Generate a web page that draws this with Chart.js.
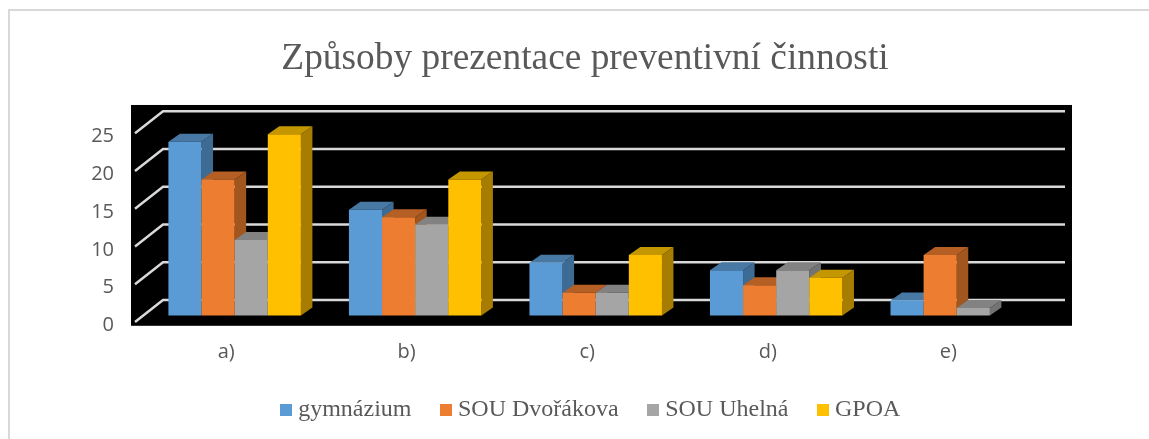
<!DOCTYPE html>
<html>
<head>
<meta charset="utf-8">
<script src="https://cdn.jsdelivr.net/npm/chart.js@4"></script>
<style>
    body { margin: 0; background: #fff; overflow: hidden; }
    #ramecek { position: absolute; left: 8px; top: 9px; right: 0; bottom: 0; border-top: 2px solid #d9d9d9; border-left: 2px solid #d9d9d9; }
    canvas { position: absolute; left: 0; top: 0; }
</style>
</head>
<body>
<div id="ramecek"></div>
<canvas id="graf" width="1149" height="439"></canvas>
<script>
const kategorie = ["a)", "b)", "c)", "d)", "e)"];
const gymnazium = [23, 14, 7, 6, 2];
const souDvorakova = [18, 13, 3, 4, 8];
const souUhelna = [10, 12, 3, 6, 1];
const gpoa = [24, 18, 8, 5, null];
const hodnotyOsy = [0, 5, 10, 15, 20, 25];

const barvy = ["#5b9bd5", "#ed7d31", "#a5a5a5", "#ffc000"];
const barvyBok = ["#3e6b94", "#a2561f", "#737373", "#a67d00"];
const barvyVrch = ["#4878a4", "#b55f25", "#828282", "#c49600"];

const SEDA_TEXT = "#595959";
const HLOUBKA_X = 11.5;
const HLOUBKA_Y = 8;

function ctyruhelnik(ctx, body, barva) {
    ctx.fillStyle = barva;
    ctx.beginPath();
    ctx.moveTo(body[0][0], body[0][1]);
    for (let i = 1; i < body.length; i++) ctx.lineTo(body[i][0], body[i][1]);
    ctx.closePath();
    ctx.fill();
}

// ctverecek do legendy, aby sedela mezera mezi znackou a textem
function znacka(barva) {
    const c = document.createElement("canvas");
    c.width = 12;
    c.height = 12;
    const g = c.getContext("2d");
    g.fillStyle = barva;
    g.fillRect(0, 0, 12, 12);
    return c;
}

const prostorovyGraf = {
    id: "prostorovyGraf",
    afterLayout(chart) {
        // titulek a legenda nejsou v originale na stredu platna
        const t = chart.titleBlock;
        const posunT = 585 - (t.left + t.right) / 2;
        t.left += posunT;
        t.right += posunT;
        const l = chart.legend;
        const posunL = 593 - (l.left + l.right) / 2;
        l.left += posunL;
        l.right += posunL;
        l.top -= 7;
        l.bottom -= 7;
    },
    beforeDraw(chart) {
        const ctx = chart.ctx;
        const a = chart.chartArea;
        ctx.save();
        ctx.fillStyle = "#000";
        ctx.fillRect(a.left - 13.4, a.top - 21.7, a.width + 38.4, a.height + 32);
        ctx.restore();
    },
    beforeDatasetsDraw(chart) {
        const ctx = chart.ctx;
        const a = chart.chartArea;
        const y = chart.scales.y;

        // mrizka je na zadni stene a na levem boku
        ctx.save();
        ctx.strokeStyle = "#d9d9d9";
        ctx.lineWidth = 2.5;
        hodnotyOsy.forEach(v => {
            const py = y.getPixelForValue(v);
            ctx.beginPath();
            ctx.moveTo(a.left - 9.4, py + 6.5);
            ctx.lineTo(a.left + 18.6, py - 15.5);
            ctx.lineTo(a.right + 18, py - 15.5);
            ctx.stroke();
        });

        // datasety zleva doprava, kazdy dalsi prekryje bok predchoziho
        chart.data.datasets.forEach((ds, i) => {
            const meta = chart.getDatasetMeta(i);
            meta.data.forEach((el, j) => {
                if (ds.data[j] === null) return;
                const x1 = el.x - el.width / 2;
                const x2 = el.x + el.width / 2;
                ctyruhelnik(ctx, [[x2, el.y], [x2 + HLOUBKA_X, el.y - HLOUBKA_Y], [x2 + HLOUBKA_X, el.base - HLOUBKA_Y], [x2, el.base]], barvyBok[i]);
                ctyruhelnik(ctx, [[x1, el.y], [x1 + HLOUBKA_X, el.y - HLOUBKA_Y], [x2 + HLOUBKA_X, el.y - HLOUBKA_Y], [x2, el.y]], barvyVrch[i]);
            });
            meta.controller.draw();
        });
        ctx.restore();
        return false;
    }
};

new Chart(document.getElementById("graf"), {
    type: "bar",
    data: {
        labels: kategorie,
        datasets: [
            { label: "gymnázium", data: gymnazium, backgroundColor: barvy[0] },
            { label: "SOU Dvořákova", data: souDvorakova, backgroundColor: barvy[1] },
            { label: "SOU Uhelná", data: souUhelna, backgroundColor: barvy[2] },
            { label: "GPOA", data: gpoa, backgroundColor: barvy[3] }
        ]
    },
    options: {
        responsive: false,
        animation: false,
        layout: { padding: { left: 20, right: 102 } },
        datasets: { bar: { categoryPercentage: 0.734, barPercentage: 1 } },
        scales: {
            x: {
                afterFit: s => { s.height = 55.5; },
                grid: { display: false, drawTicks: false },
                border: { display: false },
                ticks: { color: SEDA_TEXT, font: { family: "Open Sans", size: 20 }, labelOffset: -8.5, padding: 24.5 }
            },
            y: {
                min: 0,
                max: 25,
                afterFit: s => { s.width = 124.4; },
                grid: { display: false, drawTicks: false },
                border: { display: false },
                ticks: { stepSize: 5, color: SEDA_TEXT, font: { family: "Open Sans", size: 20 }, labelOffset: 10, padding: 30.4 }
            }
        },
        plugins: {
            tooltip: { enabled: false },
            title: {
                display: true,
                text: "Způsoby prezentace preventivní činnosti",
                color: SEDA_TEXT,
                font: { family: "Liberation Serif", size: 37.4, weight: "normal" },
                padding: { top: 37, bottom: 44.8 }
            },
            legend: {
                position: "bottom",
                labels: {
                    color: SEDA_TEXT,
                    font: { family: "Liberation Serif", size: 24 },
                    usePointStyle: true,
                    boxWidth: 0.5,
                    boxHeight: 12,
                    padding: 34,
                    generateLabels: chart => Chart.defaults.plugins.legend.labels.generateLabels(chart)
                        .map((p, i) => Object.assign(p, { pointStyle: znacka(barvy[i]) }))
                }
            }
        }
    },
    plugins: [prostorovyGraf]
});
</script>
</body>
</html>
